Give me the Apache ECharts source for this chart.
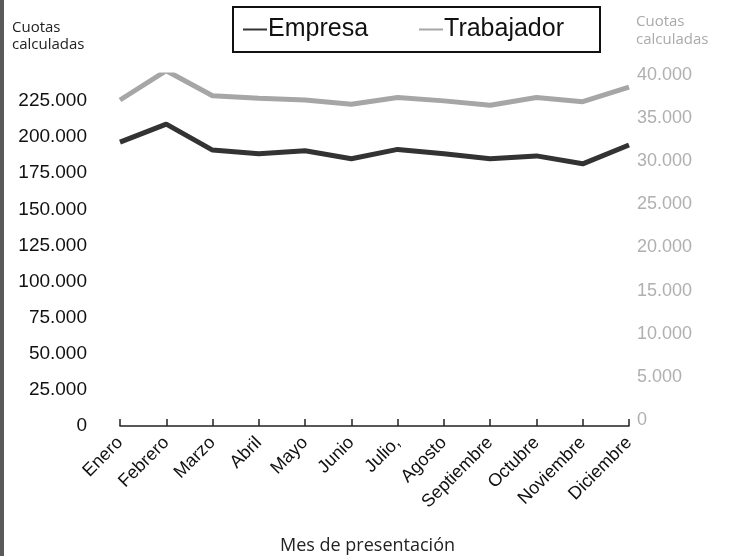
<!DOCTYPE html>
<html>
<head>
<meta charset="utf-8">
<style>
    html, body { margin: 0; padding: 0; background: #fff; }
    #chart { width: 736px; height: 556px; }
</style>
</head>
<body>
<div id="chart"></div>
<script src="https://cdn.jsdelivr.net/npm/echarts@6/dist/echarts.min.js"></script>
<script>
    // datos
    var meses = ['Enero', 'Febrero', 'Marzo', 'Abril', 'Mayo', 'Junio', 'Julio,', 'Agosto',
        'Septiembre', 'Octubre', 'Noviembre', 'Diciembre'];
    var empresa = [196500, 209000, 191000, 188500, 190500, 185000, 191500, 188500, 185000, 187000, 181500, 194500];
    var trabajador = [37100, 40500, 37600, 37300, 37100, 36600, 37400, 37000, 36500, 37400, 36900, 38600];
    var ejeIzq = { min: 0, max: 225000, interval: 25000 };
    var ejeDer = { min: 0, max: 40000, interval: 5000 };

    function miles(v) {
        return String(v).replace(/\B(?=(\d{3})+(?!\d))/g, '.');
    }

    var dom = document.getElementById('chart');
    var myChart = echarts.init(dom);

    var option = {
        animation: false,
        backgroundColor: '#fff',
        legend: {
            left: 233,
            top: 7,
            orient: 'horizontal',
            borderColor: '#111',
            borderWidth: 2,
            padding: [10, 36, 10, 10],
            itemWidth: 24,
            itemHeight: 2,
            itemGap: 51,
            icon: 'rect',
            textStyle: { fontSize: 25, color: '#111', fontFamily: 'Liberation Sans', padding: [0, 0, 0, -4] },
            data: ['Empresa', 'Trabajador']
        },
        graphic: [
            { type: 'rect', left: 0, top: 0, shape: { width: 4, height: 556 }, style: { fill: '#5a5a5a' } },
            {
                type: 'text', left: 12, top: 19,
                style: { text: 'Cuotas\ncalculadas', font: '15px "Open Sans"', fill: '#222', lineHeight: 17 }
            },
            {
                type: 'text', left: 636, top: 13,
                style: { text: 'Cuotas\ncalculadas', font: '15px "Open Sans"', fill: '#aaa', lineHeight: 18 }
            }
        ],
        grid: [
            { left: 120, right: 107, top: 101, bottom: 130, outerBoundsMode: 'none' },
            { left: 120, right: 107, top: 75, bottom: 136, outerBoundsMode: 'none' }
        ],
        xAxis: [{
            gridIndex: 0,
            type: 'category',
            data: meses,
            boundaryGap: false,
            name: 'Mes de presentación',
            nameLocation: 'middle',
            nameGap: 111,
            nameTextStyle: { fontSize: 18, color: '#222', fontFamily: 'Open Sans', padding: [0, 14, 0, 0] },
            axisLine: { lineStyle: { color: '#222', width: 1.5 } },
            axisTick: { inside: true, length: 7, lineStyle: { color: '#222', width: 1.5 } },
            axisLabel: { rotate: 45, interval: 0, margin: 14, fontSize: 18, color: '#111', fontFamily: 'Liberation Sans' },
            splitLine: { show: false }
        }, {
            gridIndex: 1,
            type: 'category',
            data: meses,
            boundaryGap: false,
            show: false
        }],
        yAxis: [{
            gridIndex: 0,
            type: 'value',
            min: ejeIzq.min,
            max: ejeIzq.max,
            interval: ejeIzq.interval,
            axisLine: { show: false },
            axisTick: { show: false },
            splitLine: { show: false },
            axisLabel: { margin: 33, fontSize: 19, color: '#111', fontFamily: 'Liberation Sans', formatter: miles }
        }, {
            gridIndex: 1,
            type: 'value',
            position: 'right',
            min: ejeDer.min,
            max: ejeDer.max,
            interval: ejeDer.interval,
            axisLine: { show: false },
            axisTick: { show: false },
            splitLine: { show: false },
            axisLabel: { margin: 8, fontSize: 18, color: '#b0b0b0', fontFamily: 'Liberation Sans', formatter: miles }
        }],
        series: [{
            name: 'Empresa',
            type: 'line',
            xAxisIndex: 0,
            yAxisIndex: 0,
            data: empresa,
            symbol: 'none',
            color: '#333',
            lineStyle: { width: 5, color: '#333' }
        }, {
            name: 'Trabajador',
            type: 'line',
            xAxisIndex: 1,
            yAxisIndex: 1,
            data: trabajador,
            symbol: 'none',
            color: '#a6a6a6',
            lineStyle: { width: 5, color: '#a6a6a6' }
        }]
    };
    myChart.setOption(option);
</script>
</body>
</html>
